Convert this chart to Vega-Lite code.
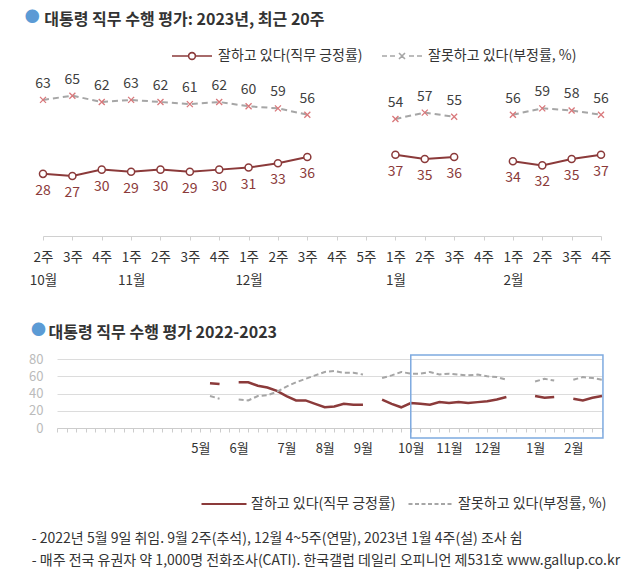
{
  "$schema": "https://vega.github.io/schema/vega-lite/v6.json",
  "padding": {"left": 24, "top": 10, "right": 5, "bottom": 5},
  "background": "white",
  "config": {
    "font": "Noto Sans CJK KR",
    "view": {"stroke": null}
  },
  "datasets": {
    "poll": [
      {"w": 16, "s": "긍정", "v": 52, "g": 1}, {"w": 16, "s": "부정", "v": 37, "g": 1},
      {"w": 17, "s": "긍정", "v": 51, "g": 1}, {"w": 17, "s": "부정", "v": 34, "g": 1},
      {"w": 19, "s": "긍정", "v": 53, "g": 2}, {"w": 19, "s": "부정", "v": 33, "g": 2},
      {"w": 20, "s": "긍정", "v": 53, "g": 2}, {"w": 20, "s": "부정", "v": 32, "g": 2},
      {"w": 21, "s": "긍정", "v": 49, "g": 2}, {"w": 21, "s": "부정", "v": 37, "g": 2},
      {"w": 22, "s": "긍정", "v": 47, "g": 2}, {"w": 22, "s": "부정", "v": 38, "g": 2},
      {"w": 23, "s": "긍정", "v": 43, "g": 2}, {"w": 23, "s": "부정", "v": 42, "g": 2},
      {"w": 24, "s": "긍정", "v": 37, "g": 2}, {"w": 24, "s": "부정", "v": 48, "g": 2},
      {"w": 25, "s": "긍정", "v": 32, "g": 2}, {"w": 25, "s": "부정", "v": 53, "g": 2},
      {"w": 26, "s": "긍정", "v": 32, "g": 2}, {"w": 26, "s": "부정", "v": 57, "g": 2},
      {"w": 27, "s": "긍정", "v": 28, "g": 2}, {"w": 27, "s": "부정", "v": 61, "g": 2},
      {"w": 28, "s": "긍정", "v": 24, "g": 2}, {"w": 28, "s": "부정", "v": 65, "g": 2},
      {"w": 29, "s": "긍정", "v": 25, "g": 2}, {"w": 29, "s": "부정", "v": 66, "g": 2},
      {"w": 30, "s": "긍정", "v": 28, "g": 2}, {"w": 30, "s": "부정", "v": 64, "g": 2},
      {"w": 31, "s": "긍정", "v": 27, "g": 2}, {"w": 31, "s": "부정", "v": 64, "g": 2},
      {"w": 32, "s": "긍정", "v": 27, "g": 2}, {"w": 32, "s": "부정", "v": 62, "g": 2},
      {"w": 34, "s": "긍정", "v": 33, "g": 3}, {"w": 34, "s": "부정", "v": 58, "g": 3},
      {"w": 35, "s": "긍정", "v": 28, "g": 3}, {"w": 35, "s": "부정", "v": 61, "g": 3},
      {"w": 36, "s": "긍정", "v": 24, "g": 3}, {"w": 36, "s": "부정", "v": 65, "g": 3},
      {"w": 37, "s": "긍정", "v": 29, "g": 3}, {"w": 37, "s": "부정", "v": 63, "g": 3},
      {"w": 38, "s": "긍정", "v": 28, "g": 3}, {"w": 38, "s": "부정", "v": 63, "g": 3},
      {"w": 39, "s": "긍정", "v": 27, "g": 3}, {"w": 39, "s": "부정", "v": 65, "g": 3},
      {"w": 40, "s": "긍정", "v": 30, "g": 3}, {"w": 40, "s": "부정", "v": 62, "g": 3},
      {"w": 41, "s": "긍정", "v": 29, "g": 3}, {"w": 41, "s": "부정", "v": 63, "g": 3},
      {"w": 42, "s": "긍정", "v": 30, "g": 3}, {"w": 42, "s": "부정", "v": 62, "g": 3},
      {"w": 43, "s": "긍정", "v": 29, "g": 3}, {"w": 43, "s": "부정", "v": 61, "g": 3},
      {"w": 44, "s": "긍정", "v": 30, "g": 3}, {"w": 44, "s": "부정", "v": 62, "g": 3},
      {"w": 45, "s": "긍정", "v": 31, "g": 3}, {"w": 45, "s": "부정", "v": 60, "g": 3},
      {"w": 46, "s": "긍정", "v": 33, "g": 3}, {"w": 46, "s": "부정", "v": 59, "g": 3},
      {"w": 47, "s": "긍정", "v": 36, "g": 3}, {"w": 47, "s": "부정", "v": 56, "g": 3},
      {"w": 50, "s": "긍정", "v": 37, "g": 4}, {"w": 50, "s": "부정", "v": 54, "g": 4},
      {"w": 51, "s": "긍정", "v": 35, "g": 4}, {"w": 51, "s": "부정", "v": 57, "g": 4},
      {"w": 52, "s": "긍정", "v": 36, "g": 4}, {"w": 52, "s": "부정", "v": 55, "g": 4},
      {"w": 54, "s": "긍정", "v": 34, "g": 5}, {"w": 54, "s": "부정", "v": 56, "g": 5},
      {"w": 55, "s": "긍정", "v": 32, "g": 5}, {"w": 55, "s": "부정", "v": 59, "g": 5},
      {"w": 56, "s": "긍정", "v": 35, "g": 5}, {"w": 56, "s": "부정", "v": 58, "g": 5},
      {"w": 57, "s": "긍정", "v": 37, "g": 5}, {"w": 57, "s": "부정", "v": 56, "g": 5}
    ]
  },
  "title": {
    "text": ["- 2022년 5월 9일 취임. 9월 2주(추석), 12월 4~5주(연말), 2023년 1월 4주(설) 조사 쉼", "- 매주 전국 유권자 약 1,000명 전화조사(CATI). 한국갤럽 데일리 오피니언 제531호 www.gallup.co.kr"],
    "orient": "bottom", "anchor": "start", "fontSize": 14, "fontWeight": "normal",
    "color": "#333333", "lineHeight": 22, "offset": 21, "dx": 7
  },
  "resolve": {"scale": {"color": "independent"}, "legend": {"color": "independent"}},
  "spacing": 36,
  "vconcat": [
    {
      "width": 544,
      "height": 169,
      "title": {
        "text": "대통령 직무 수행 평가: 2023년, 최근 20주", "color": "#333333", "fontSize": 16, "fontWeight": "bold",
        "subtitle": "●", "subtitleColor": "#5B9BD5", "subtitleFontSize": 15,
        "subtitlePadding": -18, "anchor": "start", "offset": 5, "dx": -4.5,
        "encoding": {"dx": {"value": 15}}
      },
      "data": {"name": "poll"},
      "transform": [{"filter": "datum.w >= 38"}],
      "encoding": {
        "x": {
          "field": "w", "type": "quantitative",
          "scale": {"domain": [38, 57], "nice": false, "zero": false, "range": [-14, 544]},
          "axis": {
            "values": [38, 39, 40, 41, 42, 43, 44, 45, 46, 47, 48, 49, 50, 51, 52, 53, 54, 55, 56, 57],
            "labelExpr": "[['2주','3주','4주','1주','2주','3주','4주','1주','2주','3주','4주','5주','1주','2주','3주','4주','1주','2주','3주','4주'][datum.value-38], ['10월','','','11월','','','','12월','','','','','1월','','','','2월','','',''][datum.value-38]]",
            "grid": false, "domainColor": "#d0d0d0", "tickColor": "#d0d0d0", "tickSize": 4,
            "labelFontSize": 13.5, "labelColor": "#333333", "labelPadding": 10, "labelLineHeight": 23,
            "labelOverlap": false, "labelFlush": false, "offset": 3, "title": null
          }
        },
        "y": {"field": "v", "type": "quantitative", "scale": {"domain": [0, 80], "nice": false}, "axis": null}
      },
      "layer": [
        {
          "transform": [{"filter": "datum.s == '긍정'"}],
          "mark": {"type": "line", "strokeWidth": 2},
          "encoding": {
            "detail": {"field": "g"},
            "color": {
              "field": "s", "type": "nominal",
              "scale": {"domain": ["긍정", "부정"], "range": ["#8B3A3A", "#A6A6A6"]},
              "legend": {
                "title": null, "orient": "none", "legendX": 114, "legendY": -29, "direction": "horizontal",
                "symbolSize": 1600, "symbolStrokeWidth": 2, "labelFontSize": 14, "labelColor": "#333333",
                "labelOffset": 5, "columnPadding": 15, "labelLimit": 300,
                "labelExpr": "datum.value == '긍정' ? '잘하고 있다(직무 긍정률)' : '잘못하고 있다(부정률, %)'",
                "encode": {
                  "symbols": {
                    "update": {
                      "shape": {"signal": "datum.value == '긍정' ? 'M-1,0H-0.17M0.17,0H1M-0.17,0A0.17,0.17,0,1,1,0.17,0A0.17,0.17,0,1,1,-0.17,0' : 'M-1,0H-0.75M-0.6,0H-0.35M-0.15,-0.15L0.15,0.15M-0.15,0.15L0.15,-0.15M0.35,0H0.6M0.75,0H1'"},
                      "fill": {"value": "white"},
                      "strokeDash": {"value": []},
                      "strokeWidth": {"value": 1.6}
                    }
                  }
                }
              }
            }
          }
        },
        {
          "transform": [{"filter": "datum.s == '부정'"}],
          "mark": {"type": "line", "strokeWidth": 2, "strokeDash": [6, 4]},
          "encoding": {
            "detail": {"field": "g"},
            "color": {"field": "s", "type": "nominal"}
          }
        },
        {
          "transform": [{"filter": "datum.s == '긍정'"}],
          "mark": {"type": "point", "shape": "circle", "filled": true, "fill": "white", "stroke": "#8B3A3A", "strokeWidth": 1.5, "size": 50, "opacity": 1}
        },
        {
          "transform": [{"filter": "datum.s == '부정'"}],
          "mark": {"type": "point", "shape": "M-1,-1L1,1M-1,1L1,-1", "filled": false, "stroke": "#D9787B", "strokeWidth": 1.3, "size": 36, "opacity": 1}
        },
        {
          "transform": [{"filter": "datum.s == '긍정'"}],
          "mark": {"type": "text", "dy": 17, "fontSize": 14, "color": "#8B3A3A"},
          "encoding": {"text": {"field": "v", "type": "quantitative"}}
        },
        {
          "transform": [{"filter": "datum.s == '부정'"}],
          "mark": {"type": "text", "dy": -16, "fontSize": 14, "color": "#404040"},
          "encoding": {"text": {"field": "v", "type": "quantitative"}}
        }
      ]
    },
    {
      "width": 545,
      "height": 69,
      "title": {
        "text": "대통령 직무 수행 평가 2022-2023", "color": "#333333", "fontSize": 16, "fontWeight": "bold",
        "subtitle": "●", "subtitleColor": "#5B9BD5", "subtitleFontSize": 15,
        "subtitlePadding": -18, "anchor": "start", "offset": 10, "dx": 2.5,
        "encoding": {"dx": {"value": 20}}
      },
      "data": {"name": "poll"},
      "encoding": {
        "x": {
          "field": "w", "type": "quantitative",
          "scale": {"domain": [0, 57], "nice": false, "zero": false},
          "axis": {
            "values": [0,1,2,3,4,5,6,7,8,9,10,11,12,13,14,15,16,17,18,19,20,21,22,23,24,25,26,27,28,29,30,31,32,33,34,35,36,37,38,39,40,41,42,43,44,45,46,47,48,49,50,51,52,53,54,55,56,57],
            "labelExpr": "indexof([15,19,24,28,32,37,41,45,50,54], datum.value) >= 0 ? ['5월','6월','7월','8월','9월','10월','11월','12월','1월','2월'][indexof([15,19,24,28,32,37,41,45,50,54], datum.value)] : ''",
            "grid": false, "domainColor": "#cccccc", "tickColor": "#cccccc", "tickSize": 4,
            "labelFontSize": 13, "labelColor": "#333333", "labelPadding": 10,
            "labelOverlap": false, "labelFlush": false, "title": null
          }
        },
        "y": {
          "field": "v", "type": "quantitative",
          "scale": {"domain": [0, 80], "nice": false},
          "axis": {
            "values": [0, 20, 40, 60, 80], "grid": true, "gridColor": "#dcdcdc", "ticks": false, "domain": false,
            "labelColor": "#bbbbbb", "labelFontSize": 13, "labelPadding": 14, "title": null
          }
        }
      },
      "layer": [
        {
          "transform": [{"filter": "datum.s == '긍정'"}],
          "mark": {"type": "line", "strokeWidth": 2.5},
          "encoding": {
            "detail": {"field": "g"},
            "color": {
              "field": "s", "type": "nominal",
              "scale": {"domain": ["긍정", "부정"], "range": ["#8B3A3A", "#A6A6A6"]},
              "legend": {
                "title": null, "orient": "none", "legendX": 143, "legendY": 121, "direction": "horizontal",
                "symbolSize": 2025, "symbolStrokeWidth": 2.5, "labelFontSize": 14, "labelColor": "#333333",
                "labelOffset": 3, "columnPadding": 8, "labelLimit": 300,
                "labelExpr": "datum.value == '긍정' ? '잘하고 있다(직무 긍정률)' : '잘못하고 있다(부정률, %)'",
                "encode": {
                  "symbols": {
                    "update": {
                      "shape": {"signal": "datum.value == '긍정' ? 'M-1,0H1' : 'M-1,0H1'"},
                      "fill": {"value": "white"},
                      "strokeDash": {"signal": "datum.value == '긍정' ? [] : [4, 2.5]"},
                      "strokeWidth": {"value": 2.2}
                    }
                  }
                }
              }
            }
          }
        },
        {
          "transform": [{"filter": "datum.s == '부정'"}],
          "mark": {"type": "line", "strokeWidth": 2, "strokeDash": [5, 3]},
          "encoding": {
            "detail": {"field": "g"},
            "color": {"field": "s", "type": "nominal"}
          }
        },
        {
          "transform": [{"filter": "datum.w == 57 && datum.s == '긍정'"}],
          "mark": {"type": "rect", "filled": false, "stroke": "#7EAAE0", "strokeWidth": 1.5, "strokeOpacity": 1},
          "encoding": {
            "x": {"datum": 37, "type": "quantitative"},
            "x2": {"datum": 57.1},
            "y": {"datum": 84.6, "type": "quantitative"},
            "y2": {"datum": -11.6}
          }
        }
      ]
    }
  ]
}
